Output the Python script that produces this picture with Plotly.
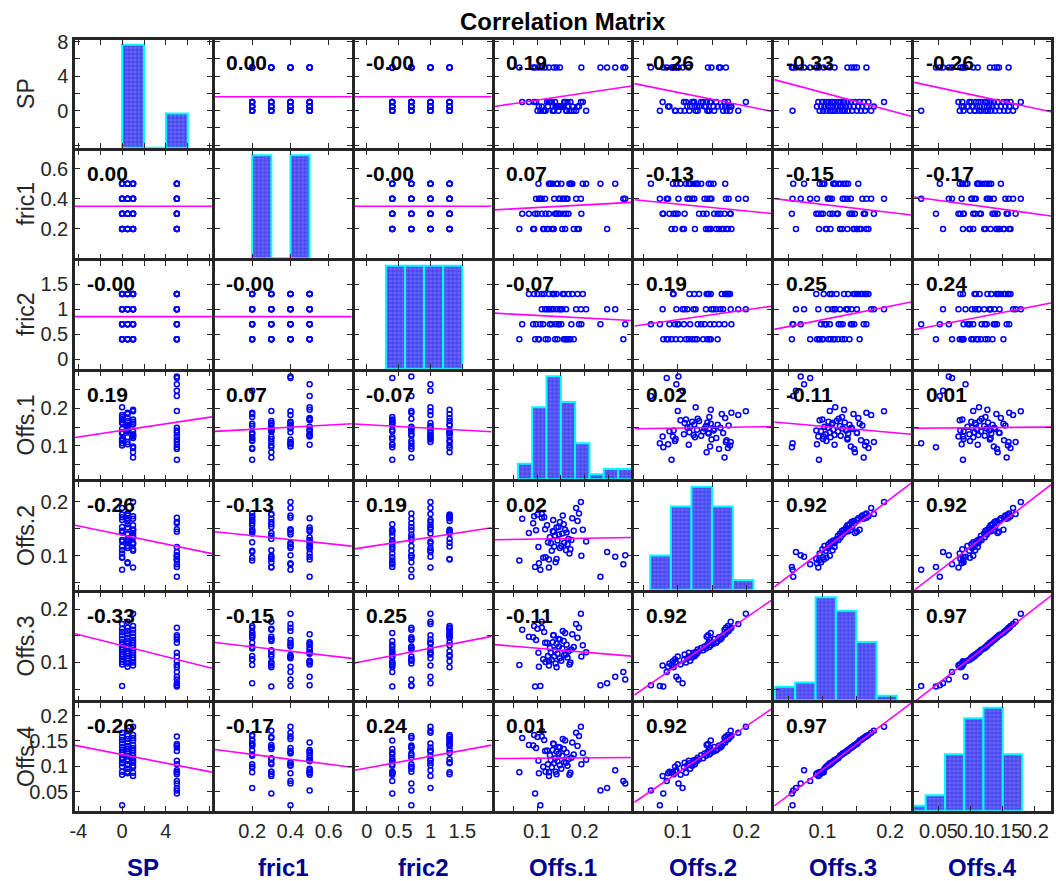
import numpy as np
import plotly.graph_objects as go

# ---------------------------------------------------------------------------
# Data: 64 runs of a 4 x 4 x 4 factorial design (SP, fric1, fric2) and the
# four measured offsets.
# ---------------------------------------------------------------------------
names = ["SP", "fric1", "fric2", "Offs.1", "Offs.2", "Offs.3", "Offs.4"]

sp = [0, 0, 0, 0, 0, 0, 0, 0, 0, 0, 0, 0, 0, 0, 0, 0,
      0.5, 0.5, 0.5, 0.5, 0.5, 0.5, 0.5, 0.5, 0.5, 0.5, 0.5, 0.5, 0.5, 0.5, 0.5, 0.5,
      1, 1, 1, 1, 1, 1, 1, 1, 1, 1, 1, 1, 1, 1, 1, 1,
      5, 5, 5, 5, 5, 5, 5, 5, 5, 5, 5, 5, 5, 5, 5, 5]

fric1 = [0.2, 0.2, 0.2, 0.2, 0.3, 0.3, 0.3, 0.3, 0.4, 0.4, 0.4, 0.4, 0.5, 0.5, 0.5, 0.5,
         0.2, 0.2, 0.2, 0.2, 0.3, 0.3, 0.3, 0.3, 0.4, 0.4, 0.4, 0.4, 0.5, 0.5, 0.5, 0.5,
         0.2, 0.2, 0.2, 0.2, 0.3, 0.3, 0.3, 0.3, 0.4, 0.4, 0.4, 0.4, 0.5, 0.5, 0.5, 0.5,
         0.2, 0.2, 0.2, 0.2, 0.3, 0.3, 0.3, 0.3, 0.4, 0.4, 0.4, 0.4, 0.5, 0.5, 0.5, 0.5]

fric2 = [0.4, 0.7, 1.0, 1.3, 0.4, 0.7, 1.0, 1.3, 0.4, 0.7, 1.0, 1.3, 0.4, 0.7, 1.0, 1.3,
         0.4, 0.7, 1.0, 1.3, 0.4, 0.7, 1.0, 1.3, 0.4, 0.7, 1.0, 1.3, 0.4, 0.7, 1.0, 1.3,
         0.4, 0.7, 1.0, 1.3, 0.4, 0.7, 1.0, 1.3, 0.4, 0.7, 1.0, 1.3, 0.4, 0.7, 1.0, 1.3,
         0.4, 0.7, 1.0, 1.3, 0.4, 0.7, 1.0, 1.3, 0.4, 0.7, 1.0, 1.3, 0.4, 0.7, 1.0, 1.3]

offs1 = [0.177, 0.113, 0.134, 0.115, 0.118, 0.145, 0.161, 0.101, 0.162, 0.107, 0.182, 0.136, 0.168, 0.172, 0.203, 0.133,
         0.123, 0.188, 0.153, 0.185, 0.156, 0.139, 0.110, 0.166, 0.104, 0.146, 0.148, 0.154, 0.143, 0.151, 0.141, 0.174,
         0.159, 0.131, 0.121, 0.094, 0.138, 0.069, 0.125, 0.083, 0.164, 0.098, 0.192, 0.157, 0.170, 0.127, 0.129, 0.196,
         0.063, 0.092, 0.247, 0.135, 0.096, 0.193, 0.148, 0.141, 0.281, 0.285, 0.117, 0.110, 0.103, 0.233, 0.264, 0.125]

offs2 = [0.146, 0.096, 0.166, 0.171, 0.097, 0.153, 0.110, 0.176, 0.143, 0.074, 0.188, 0.117, 0.104, 0.129, 0.126, 0.145,
         0.125, 0.178, 0.141, 0.164, 0.158, 0.088, 0.177, 0.131, 0.086, 0.139, 0.114, 0.174, 0.128, 0.118, 0.152, 0.169,
         0.148, 0.109, 0.156, 0.173, 0.137, 0.168, 0.078, 0.142, 0.121, 0.147, 0.199, 0.124, 0.112, 0.134, 0.123, 0.148,
         0.091, 0.160, 0.107, 0.144, 0.079, 0.100, 0.162, 0.094, 0.084, 0.101, 0.149, 0.170, 0.116, 0.061, 0.098, 0.093]

offs3 = [0.129, 0.106, 0.151, 0.157, 0.101, 0.144, 0.115, 0.163, 0.133, 0.056, 0.172, 0.111, 0.096, 0.124, 0.119, 0.138,
         0.112, 0.165, 0.126, 0.146, 0.140, 0.098, 0.176, 0.121, 0.092, 0.130, 0.108, 0.159, 0.116, 0.103, 0.135, 0.153,
         0.155, 0.105, 0.137, 0.168, 0.123, 0.161, 0.094, 0.148, 0.109, 0.142, 0.191, 0.114, 0.100, 0.127, 0.118, 0.132,
         0.095, 0.147, 0.061, 0.151, 0.055, 0.111, 0.143, 0.091, 0.082, 0.068, 0.137, 0.165, 0.118, 0.057, 0.073, 0.102]

offs4 = [0.123, 0.099, 0.145, 0.152, 0.089, 0.138, 0.107, 0.158, 0.127, 0.023, 0.166, 0.106, 0.083, 0.117, 0.113, 0.132,
         0.104, 0.160, 0.121, 0.140, 0.134, 0.089, 0.170, 0.114, 0.086, 0.125, 0.102, 0.154, 0.110, 0.095, 0.129, 0.147,
         0.151, 0.098, 0.131, 0.162, 0.116, 0.156, 0.081, 0.142, 0.101, 0.136, 0.178, 0.108, 0.087, 0.122, 0.112, 0.126,
         0.088, 0.141, 0.057, 0.144, 0.046, 0.104, 0.137, 0.084, 0.071, 0.066, 0.130, 0.159, 0.111, 0.052, 0.092, 0.088]

# Pairwise correlation coefficients printed in the panels
corr = [
    [1.00, 0.00, -0.00, 0.19, -0.26, -0.33, -0.26],
    [0.00, 1.00, -0.00, 0.07, -0.13, -0.15, -0.17],
    [-0.00, -0.00, 1.00, -0.07, 0.19, 0.25, 0.24],
    [0.19, 0.07, -0.07, 1.00, 0.02, -0.11, 0.01],
    [-0.26, -0.13, 0.19, 0.02, 1.00, 0.92, 0.92],
    [-0.33, -0.15, 0.25, -0.11, 0.92, 1.00, 0.97],
    [-0.26, -0.17, 0.24, 0.01, 0.92, 0.97, 1.00],
]

# Histogram bins: (first edge, bin width, number of bins)
hist_bins = [(0.0, 2.0, 3), (0.2, 0.1, 3), (0.3, 0.3, 4), (0.06, 0.03, 8),
             (0.06, 0.03, 5), (0.03, 0.03, 6), (0.0, 0.03, 6)]

# Axis limits and ticks for every variable
ranges = [[-4.3, 8.2], [0.005, 0.72], [-0.19, 1.96], [0.011, 0.298],
          [0.037, 0.236], [0.029, 0.231], [0.012, 0.225]]
tick_vals = [[-4, -2, 0, 2, 4, 6, 8], [0.2, 0.4, 0.6], [0, 0.5, 1, 1.5],
             [0.05, 0.1, 0.15, 0.2, 0.25], [0.05, 0.1, 0.15, 0.2],
             [0.05, 0.1, 0.15, 0.2], [0.05, 0.1, 0.15, 0.2]]
x_tick_text = [["-4", "", "0", "", "4", "", ""], ["0.2", "0.4", "0.6"],
               ["0", "0.5", "1", "1.5"], ["", "0.1", "", "0.2", ""],
               ["", "0.1", "", "0.2"], ["", "0.1", "", "0.2"],
               ["0.05", "0.1", "0.15", "0.2"]]
y_tick_text = [["", "", "0", "", "4", "", "8"], ["0.2", "0.4", "0.6"],
               ["0", "0.5", "1", "1.5"], ["", "0.1", "", "0.2", ""],
               ["", "0.1", "", "0.2"], ["", "0.1", "", "0.2"],
               ["0.05", "0.1", "0.15", "0.2"]]

columns = [np.array(v, dtype=float) for v in (sp, fric1, fric2, offs1, offs2, offs3, offs4)]
n = len(names)

# ---------------------------------------------------------------------------
# Geometry (pixels)
# ---------------------------------------------------------------------------
W, H = 1056, 881
LEFT0, COL_PITCH, PW = 75.0, 139.85, 136.9
TOP0, ROW_PITCH, PH = 40.0, 110.5, 107.8
FONT = "Liberation Sans, Arial, Helvetica, sans-serif"
FRAME = "#262626"
HIST_FILL = 0.955   # tallest bar as a fraction of the panel height


def hist_counts(values, lo, width, nbins):
    idx = np.floor((values - lo) / width).astype(int)
    idx = np.clip(idx, 0, nbins - 1)
    counts = np.bincount(idx, minlength=nbins)
    centers = lo + width * (np.arange(nbins) + 0.5)
    return centers, counts


def ax_name(prefix, k):
    return prefix if k == 1 else f"{prefix}{k}"


fig = go.Figure()
layout = {}
annotations = []

axis_style = dict(
    showline=True, linecolor=FRAME, linewidth=2.5, mirror="allticks",
    ticks="inside", ticklen=5, tickwidth=1, tickcolor=FRAME,
    showgrid=False, zeroline=False, tickmode="array", tickangle=0,
    automargin=False,
    tickfont=dict(family=FONT, size=20, color=FRAME),
)

for i in range(n):
    for j in range(n):
        k = i * n + j + 1
        px0 = LEFT0 + j * COL_PITCH
        py0 = TOP0 + i * ROW_PITCH
        xdom = [px0 / W, (px0 + PW) / W]
        ydom = [1 - (py0 + PH) / H, 1 - py0 / H]

        layout[ax_name("xaxis", k)] = dict(
            axis_style, domain=xdom, anchor=ax_name("y", k), range=ranges[j],
            tickvals=tick_vals[j], ticktext=x_tick_text[j],
            showticklabels=(i == n - 1),
        )
        layout[ax_name("yaxis", k)] = dict(
            axis_style, domain=ydom, anchor=ax_name("x", k), range=ranges[i],
            tickvals=tick_vals[i], ticktext=y_tick_text[i],
            showticklabels=(j == 0),
        )

        xref, yref = ax_name("x", k), ax_name("y", k)
        if i == j:
            # Histogram of the variable, scaled to the height of the panel
            lo, width, nb = hist_bins[i]
            centers, counts = hist_counts(columns[i], lo, width, nb)
            y0, y1 = ranges[i]
            heights = counts / counts.max() * HIST_FILL * (y1 - y0)
            fig.add_trace(go.Bar(
                x=centers, y=heights, base=y0, width=width,
                xaxis=xref, yaxis=yref,
                marker=dict(
                    color="#5252ff",
                    line=dict(color="#00ffff", width=2),
                    pattern=dict(shape="+", fgcolor="#0000b4", bgcolor="#6464ff",
                                 size=4, solidity=0.3),
                ),
                customdata=counts,
                showlegend=False, hoverinfo="skip",
            ))
        else:
            xv, yv = columns[j], columns[i]
            fig.add_trace(go.Scatter(
                x=xv, y=yv, mode="markers", xaxis=xref, yaxis=yref,
                marker=dict(symbol="circle-open", size=5, color="#0000ff",
                            line=dict(width=1.5, color="#0000ff")),
                showlegend=False, hoverinfo="skip",
            ))
            # Least-squares line through the means with slope r * sy / sx
            r = corr[i][j]
            slope = r * yv.std() / xv.std()
            xl = np.array(ranges[j])
            yl = yv.mean() + slope * (xl - xv.mean())
            fig.add_trace(go.Scatter(
                x=xl, y=yl, mode="lines", xaxis=xref, yaxis=yref,
                line=dict(color="#ff00ff", width=1.6),
                showlegend=False, hoverinfo="skip",
            ))
            annotations.append(dict(
                xref=f"{xref} domain", yref=f"{yref} domain",
                x=0.07, y=0.79, xanchor="left", yanchor="middle",
                text=f"{r:.2f}", showarrow=False,
                font=dict(family=FONT, size=21, color="black", weight="bold"),
            ))

# Row labels on the left, column labels along the bottom
for i, name in enumerate(names):
    cy = TOP0 + i * ROW_PITCH + PH / 2
    annotations.append(dict(
        xref="paper", yref="paper", x=26 / W, y=1 - cy / H,
        xanchor="center", yanchor="middle", textangle=-90,
        text=name, showarrow=False,
        font=dict(family=FONT, size=23, color=FRAME),
    ))
for j, name in enumerate(names):
    cx = LEFT0 + j * COL_PITCH + PW / 2
    annotations.append(dict(
        xref="paper", yref="paper", x=cx / W, y=1 - 867 / H,
        xanchor="center", yanchor="middle",
        text=name, showarrow=False,
        font=dict(family=FONT, size=24, color="#00008f", weight="bold"),
    ))

annotations.append(dict(
    xref="paper", yref="paper", x=563 / W, y=1 - 21 / H,
    xanchor="center", yanchor="middle", text="Correlation Matrix",
    showarrow=False, font=dict(family=FONT, size=24, color="black", weight="bold"),
))

fig.update_layout(
    width=W, height=H,
    margin=dict(l=0, r=0, t=0, b=0, pad=0, autoexpand=False),
    paper_bgcolor="white", plot_bgcolor="white", showlegend=False,
    annotations=annotations, **layout,
)

fig.write_html("out.html")
